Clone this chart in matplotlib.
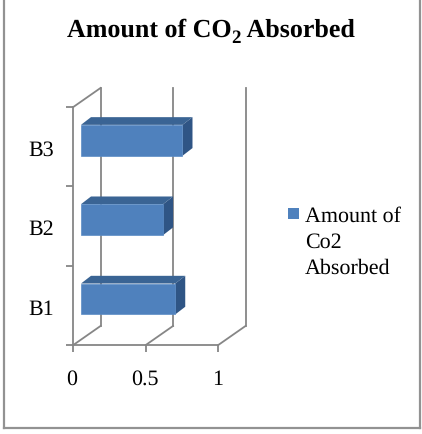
import matplotlib.pyplot as plt
from matplotlib.patches import Polygon, Rectangle
from matplotlib.lines import Line2D
from matplotlib.transforms import ScaledTranslation

categories = ["B1", "B2", "B3"]
values = [0.65, 0.566, 0.70]
x_ticks = [0, 0.5, 1]
x_tick_labels = ["0", "0.5", "1"]
series_name = "Amount of\nCo2\nAbsorbed"

GRID = "#868686"
FRONT = "#4F81BD"
TOP = "#3A6494"
SIDE = "#2F5585"

W, H = 422, 434

plt.rcParams["font.family"] = "Liberation Serif"
plt.rcParams["text.hinting"] = "no_hinting"
plt.rcParams["text.hinting_factor"] = 1

fig = plt.figure(figsize=(W / 100, H / 100), dpi=100)

# front plane of the fake 3d box
ax = fig.add_axes([73.3 / W, 1 - 345 / H, 145 / W, 238 / H])
ax.set_xlim(0, 1)
ax.set_ylim(0, 3)

# depth of the box and of the bars, in data units
wall_dx, wall_dy = 0.188, 0.24
inset_dx, inset_dy = 0.053, 0.08
bar_dx, bar_dy = 0.069, 0.097
bar_h = 0.39

for t in x_ticks:
    ax.plot([t, t + wall_dx], [0, wall_dy], color=GRID, lw=1.3, clip_on=False, zorder=1)
    ax.plot([t + wall_dx, t + wall_dx], [wall_dy, 3 + wall_dy], color=GRID, lw=1.3,
            clip_on=False, zorder=1)
ax.plot([0, wall_dx], [3, 3 + wall_dy], color=GRID, lw=1.3, clip_on=False, zorder=1)

for i, v in enumerate(values):
    x0 = inset_dx
    x1 = inset_dx + v
    y0 = i + 0.5 + inset_dy - bar_h / 2
    y1 = y0 + bar_h
    ax.add_patch(Polygon([(x0, y1), (x1, y1), (x1 + bar_dx, y1 + bar_dy), (x0 + bar_dx, y1 + bar_dy)],
                         facecolor=TOP, edgecolor="none", clip_on=False, zorder=3))
    ax.add_patch(Polygon([(x1, y0), (x1 + bar_dx, y0 + bar_dy), (x1 + bar_dx, y1 + bar_dy), (x1, y1)],
                         facecolor=SIDE, edgecolor="none", clip_on=False, zorder=3))
    ax.add_patch(Rectangle((x0, y0), v, bar_h, facecolor=FRONT, edgecolor="#5B8CC6", lw=0.5,
                           clip_on=False, zorder=4))

for side in ["top", "right"]:
    ax.spines[side].set_visible(False)
for side in ["left", "bottom"]:
    ax.spines[side].set_color(GRID)
    ax.spines[side].set_linewidth(1.3)

ax.set_xticks(x_ticks)
ax.set_xticklabels(x_tick_labels)
ax.set_yticks([0, 1, 2, 3])
ax.set_yticks([0.5, 1.5, 2.5], minor=True)
ax.set_yticklabels([])
ax.set_yticklabels(categories, minor=True)
ax.tick_params(axis="x", length=5, width=1.3, color=GRID, labelsize=16, pad=23.8)
ax.tick_params(axis="y", which="major", length=5, width=1.3, color=GRID)
ax.tick_params(axis="y", which="minor", length=0, labelsize=16, pad=14)

# nudge the tick labels a little, x labels share one baseline
for label in ax.get_yticklabels(minor=True):
    label.set_transform(label.get_transform() + ScaledTranslation(0, -1.5 / 100, fig.dpi_scale_trans))
for label in ax.get_xticklabels():
    label.set_verticalalignment("baseline")
    label.set_transform(label.get_transform() + ScaledTranslation(-1.2 / 100, 0, fig.dpi_scale_trans))

# title in three pieces so the 2 can sit lower as a subscript
t1 = fig.text(67 / W, 1 - 37 / H, "Amount of CO", fontsize=18.9, fontweight="bold",
              ha="left", va="baseline", color="black")
t2 = fig.text(0, 0, "2", fontsize=13.5, fontweight="bold", ha="left", va="baseline")
t3 = fig.text(0, 0, " Absorbed", fontsize=18.9, fontweight="bold", ha="left", va="baseline")
fig.canvas.draw()
r = fig.canvas.get_renderer()
x_end = t1.get_window_extent(r).x1
t2.set_position((x_end / W, 1 - 43 / H))
x_end = t2.get_window_extent(r).x1
t3.set_position((x_end / W, 1 - 37 / H))

# legend
fig.add_artist(Rectangle((288 / W, 1 - 219 / H), 11 / W, 11 / H, transform=fig.transFigure,
                         facecolor=FRONT, edgecolor="none"))
fig.text(305 / W, 1 - 207 / H, series_name, fontsize=15.7, ha="left", va="top",
         linespacing=1.38, color="black")

# outer frame, open at the top
for xs, ys in [([4, 4], [0, 428]), ([4, 420], [428, 428]), ([420, 420], [428, 0])]:
    fig.add_artist(Line2D([x / W for x in xs], [1 - y / H for y in ys], color="#929292", lw=1.6,
                          transform=fig.transFigure))

fig.savefig("out.png", dpi=100)
